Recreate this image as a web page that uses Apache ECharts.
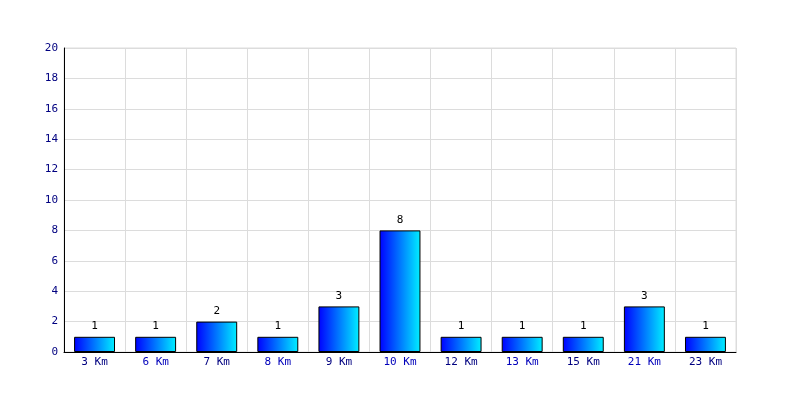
<!DOCTYPE html>
<html><head><meta charset="utf-8">
<script src="https://cdn.jsdelivr.net/npm/echarts@6/dist/echarts.min.js"></script>
<style>html,body{margin:0;padding:0;background:#fff}#c{width:800px;height:400px}</style>
</head><body><div id="c"></div>
<script>
const categories = ['3 Km','6 Km','7 Km','8 Km','9 Km','10 Km','12 Km','13 Km','15 Km','21 Km','23 Km'];
const values = [1,1,2,1,3,8,1,1,1,3,1];
const yMin = 0, yMax = 20, yStep = 2;
const labelColors = ['#000080','#0000bb'];
const font = 'DejaVu Sans Mono';
const chart = echarts.init(document.getElementById('c'));
chart.setOption({
  animation: false,
  backgroundColor: '#fff',
  grid: {left: 64, right: 64, top: 48, bottom: 48, containLabel: false},
  xAxis: {
    type: 'category', data: categories,
    axisLine: {lineStyle: {color: '#000', width: 1}},
    axisTick: {show: false},
    splitLine: {show: true, lineStyle: {color: '#dcdcdc'}},
    axisLabel: {
      fontFamily: font, fontSize: 11, margin: 5, interval: 0,
      color: (v, i) => labelColors[i % 2]
    }
  },
  yAxis: {
    type: 'value', min: yMin, max: yMax, interval: yStep,
    axisLine: {show: true, lineStyle: {color: '#000'}},
    axisTick: {show: false},
    splitLine: {lineStyle: {color: '#dcdcdc'}},
    axisLabel: {fontFamily: font, fontSize: 11, color: '#000080', margin: 6}
  },
  graphic: [{type: 'rect', shape: {x: 64, y: 48, width: 672, height: 304}, style: {fill: 'none', stroke: '#dcdcdc', lineWidth: 1}, z: -1, silent: true}],
  series: [{
    type: 'bar', data: values, barWidth: '67%',
    itemStyle: {
      borderColor: '#000', borderWidth: 1,
      color: new echarts.graphic.LinearGradient(0, 0, 1, 0, [
        {offset: 0, color: '#0000ff'}, {offset: 1, color: '#00f0ff'}
      ])
    },
    label: {show: true, position: 'top', distance: 5, fontFamily: font, fontSize: 11, color: '#000'}
  }]
});
</script></body></html>
